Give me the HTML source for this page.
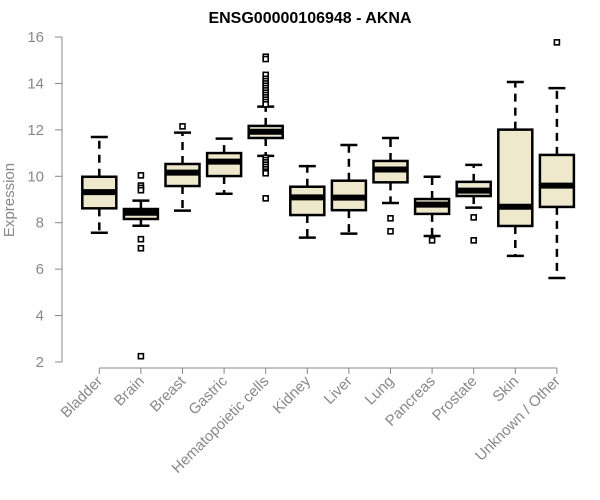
<!DOCTYPE html>
<html><head><meta charset="utf-8"><style>
body{margin:0;background:#fff;}
svg{display:block;font-family:"Liberation Sans",Arial,sans-serif;}
</style></head><body>
<svg id="chart" width="600" height="500" viewBox="0 0 600 500" xmlns="http://www.w3.org/2000/svg">
<text x="310" y="23" text-anchor="middle" font-size="16" font-weight="bold" fill="#000">ENSG00000106948 - AKNA</text>
<text transform="translate(14,200) rotate(-90)" text-anchor="middle" font-size="15" fill="#888">Expression</text>
<g id="axes"></g><g id="boxes"></g>
</svg>
<script>
const categories=["Bladder","Brain","Breast","Gastric","Hematopoietic cells","Kidney","Liver","Lung","Pancreas","Prostate","Skin","Unknown / Other"];
const whiskerLow=[7.57,7.87,8.52,9.25,10.88,7.36,7.53,8.85,7.43,8.65,6.57,5.62];
const q1=[8.62,8.16,9.58,10.01,11.65,8.33,8.54,9.74,8.38,9.15,7.86,8.68];
const medians=[9.32,8.43,10.16,10.63,11.92,9.09,9.08,10.29,8.78,9.38,8.69,9.6];
const q3=[9.98,8.59,10.53,11.0,12.17,9.55,9.81,10.66,9.02,9.76,12.01,10.92];
const whiskerHigh=[11.69,8.95,11.88,11.62,13.0,10.44,11.35,11.65,9.98,10.49,14.06,13.8];
const outliers=[[],[10.04,9.6,9.5,9.4,7.29,6.9,2.25],[12.15],[],[15.15,15.05,14.37,14.2,14.1,14.0,13.9,13.8,13.7,13.6,13.5,13.4,13.3,13.2,13.1,10.8,10.7,10.6,10.5,10.4,10.3,10.2,10.13,9.05],[],[],[8.19,7.63],[7.24],[8.23,7.24],[],[15.77]];
const yTicks=[2,4,6,8,10,12,14,16];
const NS="http://www.w3.org/2000/svg";
const y=v=>362-(v-2)*23.214;
const x=i=>99.3+41.6*i;
function mk(tag,attrs,parent){const e=document.createElementNS(NS,tag);for(const k in attrs)e.setAttribute(k,attrs[k]);parent.appendChild(e);return e;}
const axes=document.getElementById('axes'),boxes=document.getElementById('boxes');
let a=mk('line',{x1:62,x2:62,y1:y(16),y2:y(2),stroke:'#888','stroke-width':1},axes);


yTicks.forEach(t=>{
 let l=mk('line',{x1:55,x2:62,y1:y(t),y2:y(t),stroke:'#888'},axes);
 
 
 let tx=mk('text',{x:44,y:y(t)+5,'text-anchor':'end','font-size':15,fill:'#888'},axes);tx.textContent=t;
 
 
});
a=mk('line',{x1:x(0),x2:x(categories.length-1),y1:368,y2:368,stroke:'#888'},axes);


categories.forEach((c,i)=>{
 let l=mk('line',{x1:x(i),x2:x(i),y1:368,y2:374,stroke:'#888'},axes);
 
 
 let tx=mk('text',{transform:`translate(${x(i)+4},${382}) rotate(-45)`,'text-anchor':'end','font-size':15,fill:'#888'},axes);tx.textContent=c;
 
 
 const g=mk('g',{},boxes);
 
 
 const cx=x(i),hw=17,cw=8.5;
 mk('line',{x1:cx,x2:cx,y1:y(q3[i]),y2:y(whiskerHigh[i]),stroke:'#000','stroke-width':2.5,'stroke-dasharray':'8,6'},g);
 mk('line',{x1:cx,x2:cx,y1:y(q1[i]),y2:y(whiskerLow[i]),stroke:'#000','stroke-width':2.5,'stroke-dasharray':'8,6'},g);
 mk('line',{x1:cx-cw,x2:cx+cw,y1:y(whiskerHigh[i]),y2:y(whiskerHigh[i]),stroke:'#000','stroke-width':2.5},g);
 mk('line',{x1:cx-cw,x2:cx+cw,y1:y(whiskerLow[i]),y2:y(whiskerLow[i]),stroke:'#000','stroke-width':2.5},g);
 mk('rect',{x:cx-hw,y:y(q3[i]),width:2*hw,height:y(q1[i])-y(q3[i]),fill:'#EEE8CD',stroke:'#000','stroke-width':2.5},g);
 mk('line',{x1:cx-hw,x2:cx+hw,y1:y(medians[i]),y2:y(medians[i]),stroke:'#000','stroke-width':6},g);
 outliers[i].forEach(o=>{
  let r=mk('rect',{x:cx-2.5,y:y(o)-2.5,width:5,height:5,fill:'#fff',stroke:'#000','stroke-width':1.6},g);
  
  
 });
});
</script>
</body></html>
